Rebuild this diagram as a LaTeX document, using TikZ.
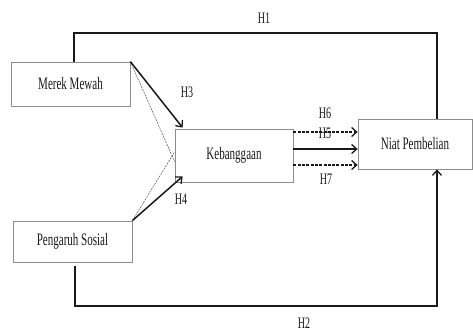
\documentclass[tikz,border=0pt]{standalone}
\usepackage{fontspec}
\newfontfamily\cnd[FakeStretch=0.63]{Liberation Serif}
\usetikzlibrary{arrows.meta}
\begin{document}
\begin{tikzpicture}[x=1pt,y=-1pt,
  box/.style={draw=black!45,line width=0.8pt,fill=white,inner sep=0pt,font=\cnd\fontsize{17.5}{19}\selectfont,text=black!90},
  lbl/.style={font=\cnd\fontsize{16}{18}\selectfont,text=black!90,inner sep=0pt},
  conn/.style={draw=black!90,line width=1.5pt},
  tip/.style={-{Straight Barb[length=5pt,width=9pt,line width=1.3pt]}},
  thinDash/.style={draw=black!70,line width=0.5pt,dash pattern=on 2pt off 1pt},
  denseDash/.style={draw=black!90,line width=1.6pt,dash pattern=on 3pt off 1.3pt}]
\useasboundingbox (0,0) rectangle (473,333);
\node[box,minimum width=119pt,minimum height=44pt] (mm) at (70.5,84) {Merek Mewah};
\node[box,minimum width=119pt,minimum height=41pt] (ps) at (72.5,241.5) {Pengaruh Sosial};
\node[box,minimum width=118pt,minimum height=53pt] (kb) at (234,155.5) {Kebanggaan};
\node[box,minimum width=114pt,minimum height=50pt] (np) at (415,144) {Niat Pembelian};
% H1
\coordinate (t1) at (74,33);
\coordinate (t2) at (437,33);
\draw[conn] (mm.north -| t1) -- (t1) -- (t2) -- (np.north -| t2);
\node[lbl] (h1) at (264,18) {H1};
% H2
\coordinate (b1) at (75,306);
\coordinate (b2) at (437,306);
\draw[conn,tip] ([yshift=-4pt]ps.south -| b1) -- (b1) -- (b2) -- (np.south -| b2);
\node[lbl] (h2) at (304,323) {H2};
% dashed thin
\draw[thinDash] (mm.north east) -- ([yshift=-6pt]kb.west);
\draw[thinDash] (ps.north east) -- ([yshift=3.6pt]kb.west);
% H3 / H4
\draw[conn,tip] (mm.north east) -- ([xshift=8pt,yshift=1pt]kb.north west);
\node[lbl] (h3) at (187,92) {H3};
\draw[conn,tip] (ps.north east) -- ([xshift=8pt,yshift=6pt]kb.south west);
\node[lbl] (h4) at (181,199) {H4};
% H5 H6 H7
\draw[denseDash,tip] ([yshift=23.5pt]kb.east) -- ([yshift=23.5pt]kb.east -| np.west);
\draw[conn,tip] ([yshift=6.5pt]kb.east) -- ([yshift=6.5pt]kb.east -| np.west);
\draw[denseDash,tip] ([yshift=-9.5pt]kb.east) -- ([yshift=-9.5pt]kb.east -| np.west);
\node[lbl] (h6) at (325,113) {H6};
\node[lbl] (h5) at (325,133) {H5};
\node[lbl] (h7) at (326,179) {H7};
\end{tikzpicture}
\end{document}
